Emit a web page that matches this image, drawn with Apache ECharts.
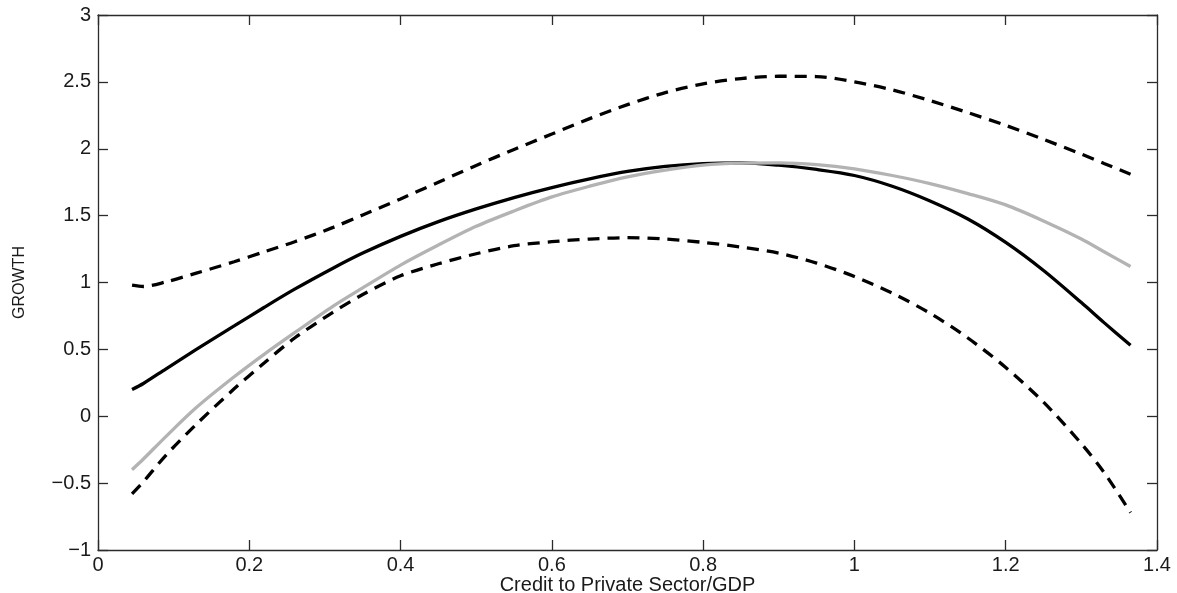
<!DOCTYPE html>
<html>
<head>
<meta charset="utf-8">
<script src="https://cdn.jsdelivr.net/npm/echarts@6/dist/echarts.min.js"></script>
<style>
  html, body { margin: 0; padding: 0; background: #fff; }
  #chart { width: 1177px; height: 593px; }
</style>
</head>
<body>
<div id="chart"></div>
<script>
// Credit-to-GDP ratio at which each curve is evaluated
const credit = [0.045, 0.06, 0.09, 0.13, 0.18, 0.22, 0.26, 0.31, 0.35, 0.40,
                0.45, 0.50, 0.55, 0.60, 0.65, 0.70, 0.75, 0.80, 0.85, 0.90,
                0.95, 1.00, 1.05, 1.10, 1.15, 1.20, 1.25, 1.30, 1.33, 1.365];

// Estimated growth effect (black)
const growthFit = [0.20, 0.245, 0.355, 0.50, 0.675, 0.815, 0.95, 1.105, 1.22, 1.345,
                   1.455, 1.55, 1.635, 1.71, 1.775, 1.83, 1.868, 1.889, 1.895, 1.877,
                   1.845, 1.80, 1.72, 1.61, 1.475, 1.30, 1.09, 0.85, 0.70, 0.53];

// Quadratic fit (grey)
const growthQuad = [-0.40, -0.32, -0.15, 0.065, 0.295, 0.465, 0.625, 0.82, 0.96, 1.13,
                    1.28, 1.42, 1.535, 1.64, 1.72, 1.79, 1.84, 1.878, 1.893, 1.895,
                    1.882, 1.85, 1.80, 1.74, 1.665, 1.58, 1.46, 1.325, 1.23, 1.12];

// Confidence band, upper and lower (dashed)
const bandUpper = [0.98, 0.97, 1.005, 1.07, 1.155, 1.23, 1.305, 1.41, 1.505, 1.625,
                   1.75, 1.875, 1.995, 2.11, 2.225, 2.33, 2.42, 2.485, 2.525, 2.542,
                   2.54, 2.50, 2.44, 2.36, 2.27, 2.175, 2.07, 1.96, 1.89, 1.81];
const bandLower = [-0.58, -0.49, -0.29, -0.06, 0.205, 0.40, 0.585, 0.775, 0.91, 1.05,
                   1.14, 1.215, 1.275, 1.305, 1.325, 1.335, 1.325, 1.30, 1.265, 1.22,
                   1.145, 1.045, 0.92, 0.77, 0.585, 0.365, 0.105, -0.205, -0.42, -0.72];

// Axis ranges and tick spacing
const xRange = [0, 1.4], xStep = 0.2;
const yRange = [-1, 3], yStep = 0.5;

const pairs = ys => credit.map((x, i) => [x, ys[i]]);
const fmt = v => String(Math.round(v * 10) / 10).replace('-', '\u2212');

const FONT = '"Liberation Sans", Arial, Helvetica, sans-serif';
const AXIS_COLOR = '#2b2b2b';
const TEXT_COLOR = '#1a1a1a';

function xAxisDef(position, showLabels) {
  return {
    type: 'value', position: position,
    min: xRange[0], max: xRange[1], interval: xStep,
    name: showLabels ? 'Credit to Private Sector/GDP' : '',
    nameLocation: 'middle', nameGap: 25, nameMoveOverlap: false,
    nameTextStyle: { fontFamily: FONT, fontSize: 20, color: TEXT_COLOR },
    axisLine: { show: true, onZero: false, lineStyle: { color: AXIS_COLOR, width: 1.3 } },
    axisTick: { show: true, inside: true, length: 10, lineStyle: { color: AXIS_COLOR, width: 1.3 } },
    axisLabel: { show: showLabels, margin: 5, fontFamily: FONT, fontSize: 20, color: TEXT_COLOR,
                 formatter: fmt, showMinLabel: true, showMaxLabel: true },
    splitLine: { show: false }
  };
}
function yAxisDef(position, showLabels) {
  return {
    type: 'value', position: position,
    min: yRange[0], max: yRange[1], interval: yStep,
    name: showLabels ? 'GROWTH' : '',
    nameLocation: 'middle', nameGap: 70, nameRotate: 90, nameMoveOverlap: false,
    nameTextStyle: { fontFamily: FONT, fontSize: 16, color: TEXT_COLOR },
    axisLine: { show: true, onZero: false, lineStyle: { color: AXIS_COLOR, width: 1.3 } },
    axisTick: { show: true, inside: true, length: 10, lineStyle: { color: AXIS_COLOR, width: 1.3 } },
    axisLabel: { show: showLabels, margin: 7, fontFamily: FONT, fontSize: 20, color: TEXT_COLOR,
                 formatter: fmt, showMinLabel: true, showMaxLabel: true },
    splitLine: { show: false }
  };
}

function lineSeries(ys, color, dashed, z) {
  return {
    type: 'line', data: pairs(ys), xAxisIndex: 0, yAxisIndex: 0,
    smooth: 0.3, symbol: 'none', z: z, silent: true,
    lineStyle: { color: color, width: 3.3, type: dashed ? [12, 8] : 'solid', cap: 'butt' }
  };
}

const chart = echarts.init(document.getElementById('chart'), null, { renderer: 'canvas' });
chart.setOption({
  animation: false,
  backgroundColor: '#ffffff',
  grid: { left: 98, right: 20, top: 15, bottom: 43, containLabel: false, outerBoundsMode: 'none' },
  xAxis: [xAxisDef('bottom', true), xAxisDef('top', false)],
  yAxis: [yAxisDef('left', true), yAxisDef('right', false)],
  series: [
    lineSeries(bandUpper, '#000000', true, 2),
    lineSeries(bandLower, '#000000', true, 2),
    lineSeries(growthFit, '#000000', false, 3),
    lineSeries(growthQuad, '#b3b3b3', false, 4)
  ]
});
</script>
</body>
</html>
